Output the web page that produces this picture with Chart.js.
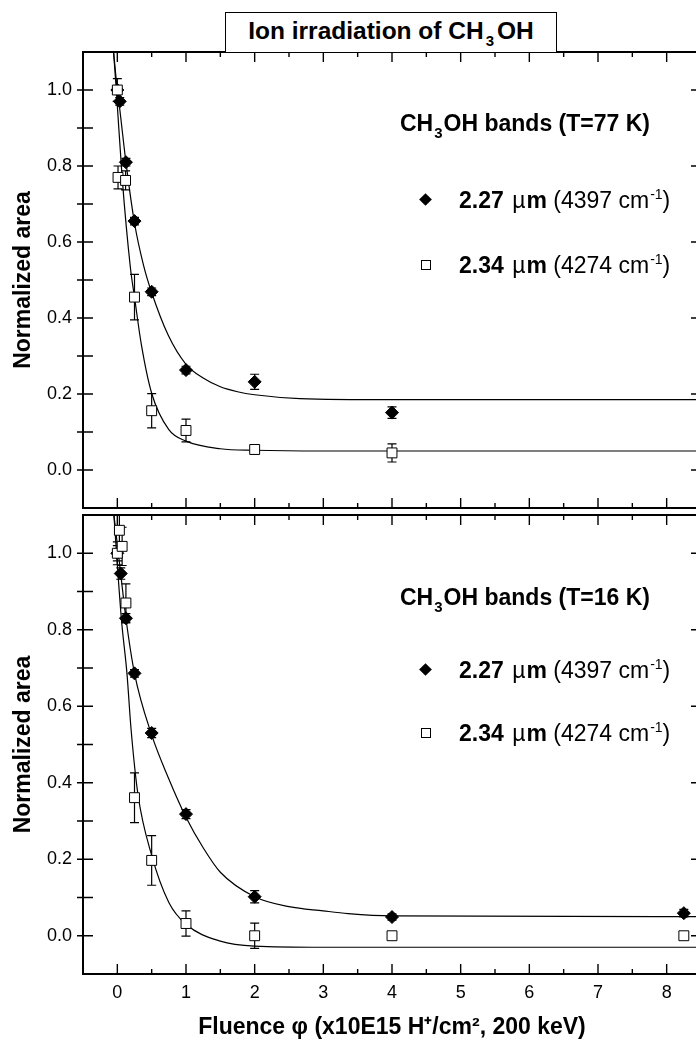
<!DOCTYPE html>
<html>
<head>
<meta charset="utf-8">
<script src="https://cdn.jsdelivr.net/npm/chart.js@4.4.1/dist/chart.umd.min.js"></script>
<style>
  html, body { margin: 0; padding: 0; background: #fff; overflow: hidden; }
  #wrap { position: relative; width: 696px; height: 1043px; overflow: hidden;
          font-family: "Liberation Sans", Arial, Helvetica, sans-serif; color: #000; }
  canvas { position: absolute; left: 0; }
  #title { position: absolute; left: 225px; top: 12px; width: 332px; height: 41px; box-sizing: border-box;
           border: 1.5px solid #000; background: #fff; font-weight: bold; font-size: 24.5px;
           text-align: center; line-height: 36px; white-space: nowrap; }
  #title .sub { font-size: 15px; top: 7px; padding: 0 3px 0 2px; }
  .lg { position: absolute; font-size: 23px; line-height: 23px; white-space: nowrap; }
  .sub { font-size: 15px; position: relative; top: 7px; padding: 0 1px; }
  .sup { font-size: 14px; position: relative; top: -9px; padding-left: 1px; }
  .mu { font-weight: normal; padding: 0 1px 0 2px; }
  .dia { position: absolute; width: 9px; height: 9px; background: #000; transform: rotate(45deg); }
  .sq { position: absolute; width: 8px; height: 8px; border: 1px solid #000; background: #fff; }
</style>
</head>
<body>
<div id="wrap">
  <canvas id="c77" width="720" height="516" style="top:0px"></canvas>
  <canvas id="c16" width="720" height="540" style="top:505px"></canvas>
  <div id="title">Ion irradiation of CH<span class="sub">3</span>OH</div>
</div>
<script>
// =====================================================
// DATOS
// =====================================================

const xTicks = [0, 1, 2, 3, 4, 5, 6, 7, 8];
const xMinorTicks = [0.5, 1.5, 2.5, 3.5, 4.5, 5.5, 6.5, 7.5];
const yTicks = [0.0, 0.2, 0.4, 0.6, 0.8, 1.0];
const yMinorTicks = [0.1, 0.3, 0.5, 0.7, 0.9];

const temperatures = ["77 K", "16 K"];
const bandMicrons = ["2.27", "2.34"];
const bandWavenumbers = ["4397", "4274"];

// T = 77 K (panel superior)
const diamondX77 = [0, 0.035, 0.125, 0.25, 0.5, 1, 2, 4];
const diamondY77 = [1.0, 0.97, 0.81, 0.655, 0.469, 0.263, 0.232, 0.151];
const diamondErr77 = [0.01, 0.01, 0.01, 0.01, 0.01, 0.01, 0.02, 0.015];
const squareX77 = [0, 0.01, 0.12, 0.25, 0.5, 1, 2, 4];
const squareY77 = [1.0, 0.77, 0.762, 0.455, 0.156, 0.104, 0.054, 0.045];
const squareErr77 = [0.03, 0.03, 0.025, 0.06, 0.045, 0.03, 0.012, 0.024];
const fitDiamondX77 = [-0.055, 0, 0.035, 0.125, 0.25, 0.38, 0.5, 0.74, 1, 1.25, 1.5, 1.75, 2, 2.66, 4, 8.5];
const fitDiamondY77 = [1.1, 1.0, 0.95, 0.81, 0.65, 0.54, 0.467, 0.355, 0.278, 0.242, 0.219, 0.206, 0.198, 0.188, 0.185, 0.185];
const fitSquareX77 = [-0.055, -0.015, 0.07, 0.19, 0.25, 0.35, 0.5, 0.75, 1, 1.5, 2, 3, 8.5];
const fitSquareY77 = [1.1, 1.0, 0.77, 0.533, 0.455, 0.33, 0.202, 0.106, 0.076, 0.056, 0.052, 0.05, 0.05];

// T = 16 K (panel inferior)
const diamondX16 = [0, 0.05, 0.125, 0.25, 0.5, 1, 2, 4, 8.25];
const diamondY16 = [1.0, 0.947, 0.83, 0.686, 0.53, 0.318, 0.102, 0.049, 0.059];
const diamondErr16 = [0.02, 0.015, 0.012, 0.01, 0.012, 0.012, 0.016, 0.008, 0.01];
const squareX16 = [0, 0.03, 0.07, 0.125, 0.25, 0.5, 1, 2, 4, 8.25];
const squareY16 = [1.0, 1.06, 1.018, 0.87, 0.361, 0.197, 0.032, 0.0, 0.0, 0.0];
const squareErr16 = [0.03, 0.04, 0.05, 0.05, 0.065, 0.065, 0.033, 0.033, 0, 0];
const fitDiamondX16 = [-0.05, 0.05, 0.125, 0.25, 0.5, 0.75, 1, 1.25, 1.5, 2, 2.5, 3, 3.36, 4, 8.5];
const fitDiamondY16 = [1.1, 0.945, 0.83, 0.686, 0.525, 0.41, 0.31, 0.23, 0.166, 0.102, 0.076, 0.065, 0.058, 0.052, 0.05];
const fitSquareX16 = [-0.05, 0.058, 0.14, 0.2, 0.3, 0.5, 0.75, 1, 1.5, 2, 3, 8.5];
const fitSquareY16 = [1.1, 0.83, 0.686, 0.54, 0.37, 0.21, 0.087, 0.03, -0.014, -0.027, -0.03, -0.03];

const FONT = '"Liberation Sans", Arial, Helvetica, sans-serif';

// =====================================================
// PLUGINS: BARRAS DE ERROR Y MARCO CON TICKS
// =====================================================

const errorBarPlugin = {
  id: "errorBars",
  beforeDatasetsDraw(chart) {
    const { ctx, chartArea: a, scales: { x, y } } = chart;
    ctx.save();
    ctx.beginPath();
    ctx.rect(a.left, a.top, a.right - a.left, a.bottom - a.top);
    ctx.clip();
    ctx.strokeStyle = "#000";
    ctx.lineWidth = 1.2;
    ctx.beginPath();
    chart.data.datasets.forEach(ds => {
      if (!ds.errors) return;
      ds.data.forEach((p, j) => {
        const e = ds.errors[j];
        if (!e) return;
        const px = x.getPixelForValue(p.x);
        const y1 = y.getPixelForValue(p.y + e);
        const y2 = y.getPixelForValue(p.y - e);
        ctx.moveTo(px, y1); ctx.lineTo(px, y2);
        ctx.moveTo(px - 4.5, y1); ctx.lineTo(px + 4.5, y1);
        ctx.moveTo(px - 4.5, y2); ctx.lineTo(px + 4.5, y2);
      });
    });
    ctx.stroke();
    ctx.restore();
  }
};

const framePlugin = {
  id: "frame",
  afterDatasetsDraw(chart) {
    const { ctx, chartArea: a, scales: { x, y } } = chart;
    const seg = (x1, y1, x2, y2) => { ctx.moveTo(x1, y1); ctx.lineTo(x2, y2); };
    ctx.save();
    ctx.strokeStyle = "#000";
    ctx.lineWidth = 1.4;
    ctx.beginPath();
    xTicks.forEach(v => {
      const px = x.getPixelForValue(v);
      seg(px, a.top, px, a.top + 10);
      seg(px, a.bottom, px, a.bottom - 10);
    });
    xMinorTicks.forEach(v => {
      const px = x.getPixelForValue(v);
      seg(px, a.top, px, a.top + 5);
      seg(px, a.bottom, px, a.bottom - 5);
    });
    yTicks.forEach(v => {
      const py = y.getPixelForValue(v);
      seg(a.left - 6, py, a.left + 10, py);
      seg(a.right, py, a.right - 10, py);
    });
    yMinorTicks.forEach(v => {
      const py = y.getPixelForValue(v);
      seg(a.left - 6, py, a.left + 10, py);
      seg(a.right, py, a.right - 5, py);
    });
    ctx.stroke();
    ctx.lineWidth = 2;
    ctx.strokeRect(a.left, a.top, a.right - a.left, a.bottom - a.top);
    ctx.restore();
  }
};

// =====================================================
// CREAR PANEL
// =====================================================

function puntos(xs, ys) {
  return xs.map((v, i) => ({ x: v, y: ys[i] }));
}

function sinPadding(s) {
  s.paddingTop = 0;
  s.paddingBottom = 0;
  s.paddingLeft = 0;
  s.paddingRight = 0;
}

function crearPanel(id, p) {

  const datasets = [
    {
      data: puntos(p.sqX, p.sqY), errors: p.sqErr,
      pointStyle: "rect", pointRadius: 7, pointHoverRadius: 7,
      backgroundColor: "#fff", borderColor: "#000", pointBorderWidth: 1, showLine: false
    },
    {
      data: puntos(p.diX, p.diY), errors: p.diErr,
      pointStyle: "rectRot", pointRadius: 6.5, pointHoverRadius: 6.5,
      backgroundColor: "#000", borderColor: "#000", pointBorderWidth: 1, showLine: false
    },
    {
      data: puntos(p.fitDiX, p.fitDiY), showLine: true, pointRadius: 0,
      borderColor: "#000", borderWidth: 1.2, cubicInterpolationMode: "monotone", fill: false
    },
    {
      data: puntos(p.fitSqX, p.fitSqY), showLine: true, pointRadius: 0,
      borderColor: "#000", borderWidth: 1.2, cubicInterpolationMode: "monotone", fill: false
    }
  ];

  new Chart(document.getElementById(id), {
    type: "scatter",
    data: { datasets },
    plugins: [errorBarPlugin, framePlugin],
    options: {
      responsive: false,
      animation: false,
      events: [],
      layout: { padding: { left: 0, right: 19, top: p.padTop, bottom: 0 } },
      plugins: { legend: { display: false }, tooltip: { enabled: false } },
      scales: {
        x: {
          type: "linear", min: -0.5, max: 8.5,
          afterBuildTicks: s => { s.ticks = xTicks.map(v => ({ value: v })); },
          afterFit: s => { s.height = p.xHeight; sinPadding(s); },
          grid: { display: false, drawTicks: false },
          border: { display: false },
          ticks: {
            display: p.labels, padding: 8, color: "#000",
            font: { family: FONT, size: 18 },
            callback: v => String(v)
          },
          title: {
            display: p.labels, text: "Fluence φ (x10E15 H⁺/cm², 200 keV)", color: "#000",
            font: { family: FONT, size: 23, weight: "bold" }, padding: { top: 0, bottom: 4 }
          }
        },
        y: {
          type: "linear", min: -0.1, max: 1.1,
          afterBuildTicks: s => { s.ticks = yTicks.map(v => ({ value: v })); },
          afterFit: s => { s.width = 83; sinPadding(s); },
          grid: { display: false, drawTicks: false },
          border: { display: false },
          ticks: {
            padding: 11, color: "#000",
            font: { family: FONT, size: 18 },
            callback: v => v.toFixed(1)
          },
          title: {
            display: true, text: "Normalized area", color: "#000",
            font: { family: FONT, size: 23, weight: "bold" }, padding: { top: 10, bottom: 0 }
          }
        }
      }
    }
  });

}

// =====================================================
// LEYENDAS (HTML)
// =====================================================

function crearLeyenda(temp, tops) {
  const wrap = document.getElementById("wrap");
  const marcas = ["dia", "sq"];

  const t = document.createElement("div");
  t.className = "lg";
  t.style.left = "400px";
  t.style.top = (tops[0] - 11.5) + "px";
  t.style.fontWeight = "bold";
  t.innerHTML = `CH<span class="sub">3</span>OH bands (T=${temp})`;
  wrap.appendChild(t);

  bandMicrons.forEach((um, i) => {
    const cy = tops[i + 1];
    const m = document.createElement("div");
    m.className = marcas[i];
    m.style.left = (426 - 5) + "px";
    m.style.top = (cy - 5) + "px";
    wrap.appendChild(m);

    const row = document.createElement("div");
    row.className = "lg";
    row.style.left = "459px";
    row.style.top = (cy - 11.5) + "px";
    row.innerHTML = `<b>${um} <span class="mu">µ</span>m</b> (${bandWavenumbers[i]} cm<span class="sup">-1</span>)`;
    wrap.appendChild(row);
  });
}

// =====================================================
// INICIALIZACION
// =====================================================

crearPanel("c77", {
  padTop: 52, xHeight: 3, labels: false,
  sqX: squareX77, sqY: squareY77, sqErr: squareErr77,
  diX: diamondX77, diY: diamondY77, diErr: diamondErr77,
  fitDiX: fitDiamondX77, fitDiY: fitDiamondY77,
  fitSqX: fitSquareX77, fitSqY: fitSquareY77
});

crearPanel("c16", {
  padTop: 10, xHeight: 71, labels: true,
  sqX: squareX16, sqY: squareY16, sqErr: squareErr16,
  diX: diamondX16, diY: diamondY16, diErr: diamondErr16,
  fitDiX: fitDiamondX16, fitDiY: fitDiamondY16,
  fitSqX: fitSquareX16, fitSqY: fitSquareY16
});

crearLeyenda(temperatures[0], [123, 200, 265]);
crearLeyenda(temperatures[1], [597, 670, 733]);
</script>
</body>
</html>
